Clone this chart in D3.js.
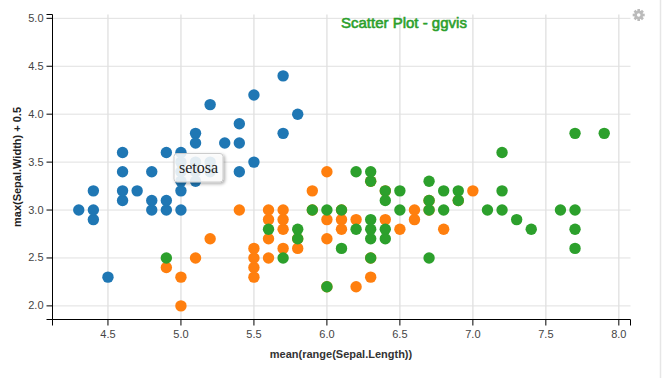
<!DOCTYPE html>
<html>
<head>
<meta charset="utf-8">
<script src="https://cdn.jsdelivr.net/npm/d3@7"></script>
<style>
  html, body { margin: 0; padding: 0; background: #fff; overflow: hidden; }
  text { font-family: "Liberation Sans", Arial, sans-serif; }
</style>
</head>
<body>
<div id="chart"></div>
<script>
const xTicks = [4.5, 5.0, 5.5, 6.0, 6.5, 7.0, 7.5, 8.0]
const yTicks = [2.0, 2.5, 3.0, 3.5, 4.0, 4.5, 5.0]

// [Sepal.Length, Sepal.Width]
const setosa = [
  [5.1, 3.5], [4.9, 3.0], [4.7, 3.2], [4.6, 3.1], [5.0, 3.6], [5.4, 3.9], [4.6, 3.4], [5.0, 3.4],
  [4.4, 2.9], [4.9, 3.1], [5.4, 3.7], [4.8, 3.4], [4.8, 3.0], [4.3, 3.0], [5.8, 4.0], [5.7, 4.4],
  [5.7, 3.8], [5.1, 3.8], [5.4, 3.4], [5.1, 3.7], [4.6, 3.6], [5.1, 3.3], [5.0, 3.0], [5.2, 3.5],
  [5.2, 3.4], [4.8, 3.1], [5.2, 4.1], [5.5, 4.2], [5.0, 3.2], [5.5, 3.5], [4.9, 3.6], [4.4, 3.0],
  [5.1, 3.4], [5.0, 3.5], [4.5, 2.3], [4.4, 3.2], [4.6, 3.2], [5.3, 3.7], [5.0, 3.3]
]
const versicolor = [
  [7.0, 3.2], [6.4, 3.2], [6.9, 3.1], [5.5, 2.3], [6.5, 2.8], [5.7, 2.8], [6.3, 3.3], [4.9, 2.4],
  [6.6, 2.9], [5.2, 2.7], [5.0, 2.0], [5.9, 3.0], [6.0, 2.2], [6.1, 2.9], [5.6, 2.9], [6.7, 3.1],
  [5.6, 3.0], [5.8, 2.7], [6.2, 2.2], [5.6, 2.5], [5.9, 3.2], [6.1, 2.8], [6.3, 2.5], [6.4, 2.9],
  [6.6, 3.0], [6.8, 2.8], [6.7, 3.0], [6.0, 2.9], [5.7, 2.6], [5.5, 2.4], [6.0, 2.7], [5.4, 3.0],
  [6.0, 3.4], [6.3, 2.3], [5.5, 2.5], [5.5, 2.6], [6.1, 3.0], [5.8, 2.6], [5.0, 2.3], [5.6, 2.7],
  [5.7, 3.0], [5.7, 2.9], [6.2, 2.9], [5.1, 2.5]
]
const virginica = [
  [6.3, 3.3], [5.8, 2.7], [7.1, 3.0], [6.3, 2.9], [6.5, 3.0], [7.6, 3.0], [4.9, 2.5], [7.3, 2.9],
  [6.7, 2.5], [7.2, 3.6], [6.5, 3.2], [6.4, 2.7], [6.8, 3.0], [5.7, 2.5], [5.8, 2.8], [6.4, 3.2],
  [7.7, 3.8], [7.7, 2.6], [6.0, 2.2], [6.9, 3.2], [5.6, 2.8], [7.7, 2.8], [6.3, 2.7], [6.7, 3.3],
  [7.2, 3.2], [6.2, 2.8], [6.1, 3.0], [6.4, 2.8], [7.2, 3.0], [7.4, 2.8], [7.9, 3.8], [6.3, 2.8],
  [6.1, 2.6], [7.7, 3.0], [6.3, 3.4], [6.4, 3.1], [6.0, 3.0], [6.9, 3.1], [6.7, 3.1], [6.8, 3.2],
  [6.7, 3.0], [6.3, 2.5], [6.2, 3.4], [5.9, 3.0]
]
const seriesColors = ['#1f77b4', '#ff7f0e', '#2ca02c']

const width = 666
const height = 378
const plot = { left: 52.5, right: 630.5, top: 14.5, bottom: 319.5 }

const svg = d3.select('#chart').append('svg')
  .attr('width', width)
  .attr('height', height)
  .style('display', 'block')

const xScale = d3.scaleLinear().domain([4.12, 8.08]).range([plot.left, plot.right])
const yScale = d3.scaleLinear().domain([1.858, 5.04]).range([plot.bottom, plot.top])

// strip on the right of the widget
svg.append('line')
  .attr('x1', 660.5).attr('x2', 660.5)
  .attr('y1', 0).attr('y2', height)
  .style('stroke', '#e6e6e6')
  .style('stroke-width', 1.5)

// grid
svg.append('g').selectAll('line')
  .data(xTicks)
  .enter().append('line')
  .attr('x1', d => xScale(d))
  .attr('x2', d => xScale(d))
  .attr('y1', plot.top)
  .attr('y2', plot.bottom)
  .style('stroke', '#e4e4e4')
  .style('stroke-width', 1.5)

svg.append('g').selectAll('line')
  .data(yTicks)
  .enter().append('line')
  .attr('x1', plot.left)
  .attr('x2', plot.right)
  .attr('y1', d => yScale(d))
  .attr('y2', d => yScale(d))
  .style('stroke', '#e0e0e0')

const xAxis = d3.axisBottom(xScale)
  .tickValues(xTicks)
  .tickFormat(d3.format('.1f'))
  .tickSize(6)
  .tickPadding(5)
  .offset(0)

const yAxis = d3.axisLeft(yScale)
  .tickValues(yTicks)
  .tickFormat(d3.format('.1f'))
  .tickSize(6)
  .tickPadding(3)
  .offset(0)

const gx = svg.append('g')
  .attr('transform', `translate(0, ${plot.bottom})`)
  .call(xAxis)

const gy = svg.append('g')
  .attr('transform', `translate(${plot.left}, 0)`)
  .call(yAxis)

gx.selectAll('text').style('font-size', '11px').style('fill', '#444')
gy.selectAll('text').style('font-size', '11px').style('fill', '#444')

svg.append('text') // x axis label
  .attr('x', 341)
  .attr('y', 358)
  .attr('text-anchor', 'middle')
  .style('font-size', '11px')
  .style('font-weight', 'bold')
  .style('fill', '#333')
  .text('mean(range(Sepal.Length))')

svg.append('text') // y axis label
  .attr('transform', 'translate(21, 167) rotate(-90)')
  .attr('text-anchor', 'middle')
  .style('font-size', '11px')
  .style('font-weight', 'bold')
  .style('fill', '#222')
  .text('max(Sepal.Width) + 0.5')

// points
const series = [setosa, versicolor, virginica]
series.forEach((points, i) => {
  svg.append('g').selectAll('circle')
    .data(points)
    .enter().append('circle')
    .attr('cx', d => xScale(d[0]))
    .attr('cy', d => yScale(d[1]))
    .attr('r', 5.7)
    .style('fill', seriesColors[i])
})

svg.append('text') // title
  .attr('x', 341)
  .attr('y', 28)
  .style('font-size', '15px')
  .style('fill', '#2ca02c')
  .style('stroke', '#2ca02c')
  .style('stroke-width', 0.6)
  .text('Scatter Plot - ggvis')

// tooltip
const defs = svg.append('defs')
const shadow = defs.append('filter').attr('id', 'tipShadow')
  .attr('x', '-30%').attr('y', '-30%').attr('width', '160%').attr('height', '160%')
shadow.append('feDropShadow')
  .attr('dx', 1.5).attr('dy', 1.5).attr('stdDeviation', 1.5)
  .attr('flood-color', '#000').attr('flood-opacity', 0.35)

svg.append('rect')
  .attr('x', 174)
  .attr('y', 153.5)
  .attr('width', 49)
  .attr('height', 28.5)
  .attr('rx', 3)
  .style('fill', 'rgba(255,255,255,0.85)')
  .style('stroke', '#ccc')
  .style('filter', 'url(#tipShadow)')

svg.append('text')
  .attr('x', 198.5)
  .attr('y', 173)
  .attr('text-anchor', 'middle')
  .style('font-family', '"Liberation Serif", serif')
  .style('font-size', '16px')
  .style('fill', '#222')
  .text('setosa')

// gear icon
const gear = svg.append('g').attr('transform', 'translate(638.7, 15)')
gear.selectAll('rect')
  .data([0, 45, 90, 135])
  .enter().append('rect')
  .attr('x', -1.3)
  .attr('y', -6)
  .attr('width', 2.6)
  .attr('height', 12)
  .attr('transform', d => `rotate(${d})`)
  .style('fill', '#bbb')
gear.append('circle').attr('r', 3.2).style('fill', 'none').style('stroke', '#bbb').style('stroke-width', 2.4)
gear.append('circle').attr('r', 1.8).style('fill', '#fff')
</script>
</body>
</html>
